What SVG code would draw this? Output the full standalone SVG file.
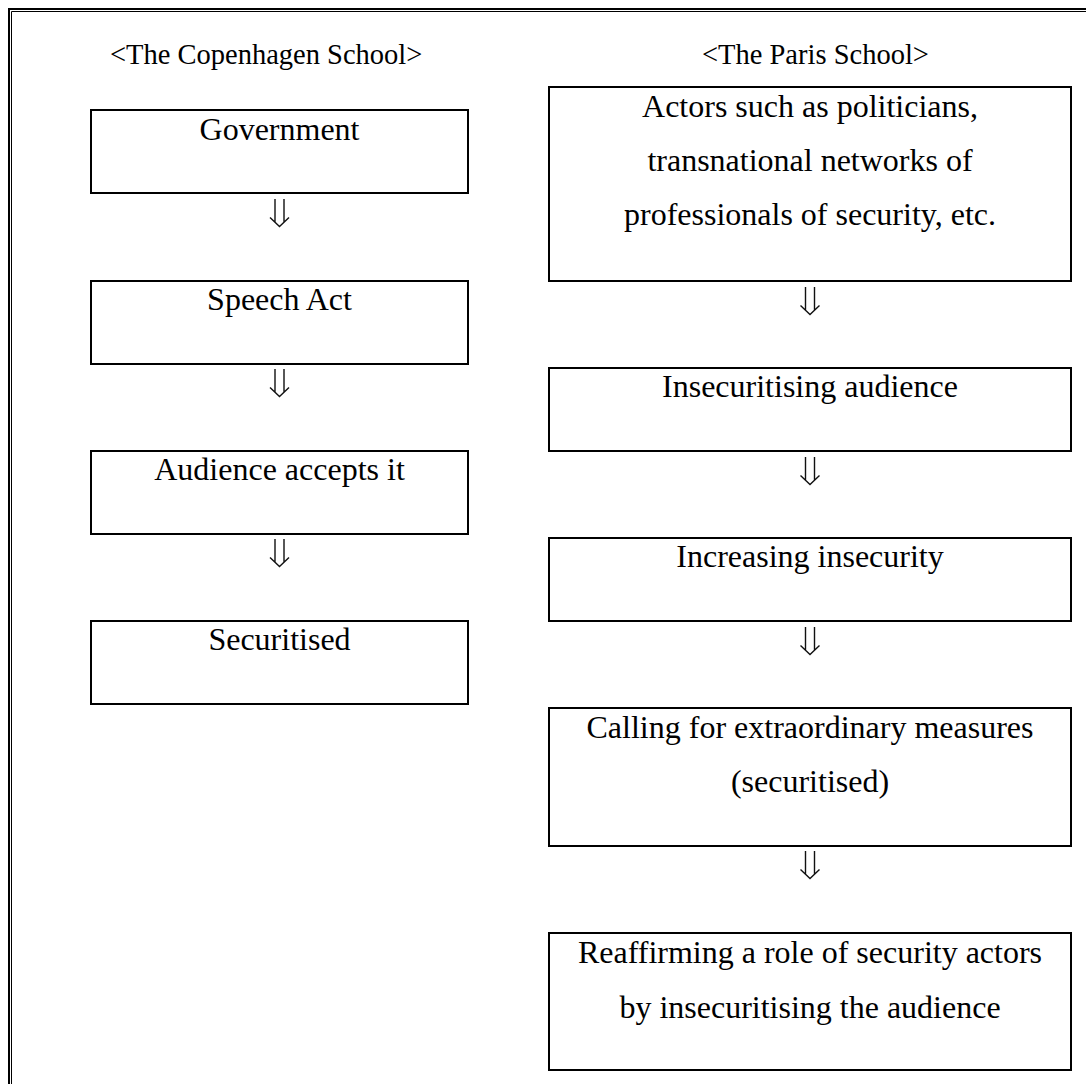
<svg xmlns="http://www.w3.org/2000/svg" width="1086" height="1084" viewBox="0 0 1086 1084">
<style>
.box{fill:#fff;stroke:#000;stroke-width:2}
.t{font-family:"Liberation Serif","Times New Roman",serif;font-size:32px;fill:#000;text-anchor:middle}
.title{font-family:"Liberation Serif","Times New Roman",serif;font-size:28.5px;fill:#000}
.arr{fill:none;stroke:#111;stroke-width:1.4;stroke-linejoin:miter}
</style>
<defs>
<path id="dArr" d="M-4.5,0 V23.2 M4.5,0 V23.2 M-9.5,18.5 L0,27.5 L9.5,18.5"/>
</defs>
<rect width="1086" height="1084" fill="#fff"/>
<g id="frame" fill="none" stroke="#000">
<path d="M9,1084 V9 H1086" stroke-width="2"/>
<path d="M11.5,1084 V11.5 H1086" stroke-width="1"/>
</g>
<g id="titles">
<text class="title" x="110" y="64">&lt;The Copenhagen School&gt;</text>
<text class="title" x="702" y="64">&lt;The Paris School&gt;</text>
</g>
<g id="connectors" class="arr">
<use href="#dArr" x="279.5" y="199"/>
<use href="#dArr" x="279.5" y="369"/>
<use href="#dArr" x="279.5" y="539"/>
<use href="#dArr" x="810" y="287"/>
<use href="#dArr" x="810" y="457"/>
<use href="#dArr" x="810" y="627"/>
<use href="#dArr" x="810" y="851"/>
</g>
<g id="c-government">
<rect class="box" x="91" y="110" width="377" height="83"/>
<text class="t" x="279.5" y="140">Government</text>
</g>
<g id="c-speech-act">
<rect class="box" x="91" y="281" width="377" height="83"/>
<text class="t" x="279.5" y="310">Speech Act</text>
</g>
<g id="c-audience">
<rect class="box" x="91" y="451" width="377" height="83"/>
<text class="t" x="279.5" y="480">Audience accepts it</text>
</g>
<g id="c-securitised">
<rect class="box" x="91" y="621" width="377" height="83"/>
<text class="t" x="279.5" y="650">Securitised</text>
</g>
<g id="p-actors">
<rect class="box" x="549" y="87" width="522" height="194"/>
<text class="t" x="810" y="117">Actors such as politicians,</text>
<text class="t" x="810" y="171">transnational networks of</text>
<text class="t" x="810" y="225">professionals of security, etc.</text>
</g>
<g id="p-insecuritising">
<rect class="box" x="549" y="368" width="522" height="83"/>
<text class="t" x="810" y="397">Insecuritising audience</text>
</g>
<g id="p-increasing">
<rect class="box" x="549" y="538" width="522" height="83"/>
<text class="t" x="810" y="567">Increasing insecurity</text>
</g>
<g id="p-calling">
<rect class="box" x="549" y="708" width="522" height="138"/>
<text class="t" x="810" y="738">Calling for extraordinary measures</text>
<text class="t" x="810" y="792">(securitised)</text>
</g>
<g id="p-reaffirming">
<rect class="box" x="549" y="933" width="522" height="137"/>
<text class="t" x="810" y="963">Reaffirming a role of security actors</text>
<text class="t" x="810" y="1018">by insecuritising the audience</text>
</g>
</svg>
